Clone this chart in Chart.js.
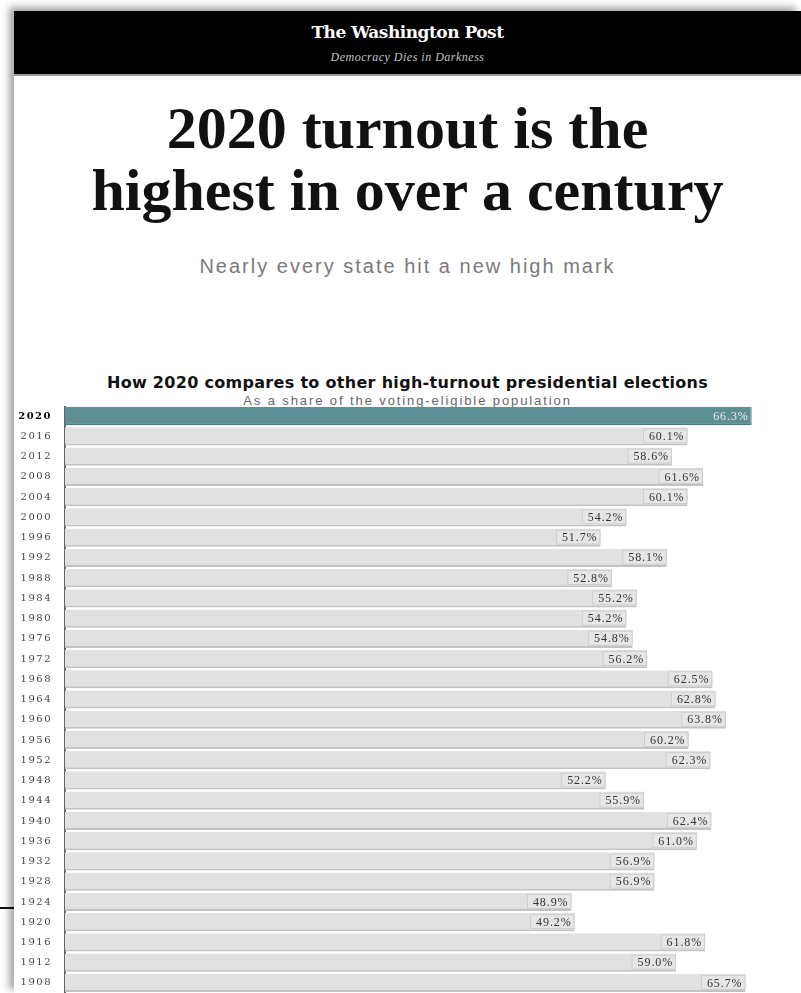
<!DOCTYPE html>
<html>
<head>
<meta charset="utf-8">
<script src="https://cdn.jsdelivr.net/npm/chart.js@4.4.0/dist/chart.umd.min.js"></script>
<style>
  html, body { margin: 0; padding: 0; background: #fff; }
  body { width: 801px; height: 993px; position: relative; overflow: hidden; }
  .page {
    position: absolute; left: 14px; top: 11px; right: 0; bottom: 0;
    background: #fff;
    box-shadow: -5px -4px 7px rgba(0, 0, 0, 0.35);
  }
  .masthead {
    position: absolute; left: 14px; top: 11px; right: 0; height: 63px;
    background: #000; color: #fff; text-align: center;
    border-bottom: 2px solid #9a9a9a;
  }
  .masthead .name {
    position: absolute; left: 0; right: 0; top: 11px;
    font: bold 17px "DejaVu Serif", serif; letter-spacing: -0.5px;
  }
  .masthead .motto {
    position: absolute; left: 0; right: 0; top: 39px;
    font: italic 12px "Liberation Serif", serif; color: #c4c4c4; letter-spacing: 0.5px;
  }
  .headline {
    position: absolute; left: 14px; right: 0; top: 97px; text-align: center;
    font: bold 60px/62px "Liberation Serif", serif; color: #111;
  }
  .dek {
    position: absolute; left: 14px; right: 0; top: 255px; text-align: center;
    font: 20px "Liberation Sans", sans-serif; color: #7a7a7a; letter-spacing: 2px;
  }
  .chart-title {
    position: absolute; left: 14px; right: 0; top: 373px; text-align: center;
    font: bold 16px "DejaVu Sans", sans-serif; color: #111; letter-spacing: 0.3px;
  }
  .chart-sub {
    position: absolute; left: 14px; right: 0; top: 393px; text-align: center;
    font: 13px "Liberation Sans", sans-serif; color: #666; letter-spacing: 1.9px;
  }
  .edge-mark {
    position: absolute; left: 0; top: 907px; width: 14px; height: 2px; background: #111;
  }
  #wrap { position: absolute; left: 14px; top: 406px; width: 787px; height: 587px; }
</style>
</head>
<body>
<div class="page"></div>
<div class="masthead">
  <div class="name">The Washington Post</div>
  <div class="motto">Democracy Dies in Darkness</div>
</div>
<div class="headline">2020 turnout is the<br>highest in over a century</div>
<div class="dek">Nearly every state hit a new high mark</div>
<div class="chart-title">How 2020 compares to other high-turnout presidential elections</div>
<div class="chart-sub">As a share of the voting-eligible population</div>
<div class="edge-mark"></div>
<div id="wrap"><canvas id="chart" width="787" height="587"></canvas></div>

<script>
// election years, newest first
const years = [
  '2020', '2016', '2012', '2008', '2004', '2000', '1996', '1992', '1988', '1984',
  '1980', '1976', '1972', '1968', '1964', '1960', '1956', '1952', '1948', '1944',
  '1940', '1936', '1932', '1928', '1924', '1920', '1916', '1912', '1908'
];

// turnout, % of voting-eligible population
const turnout = [
  66.3, 60.1, 58.6, 61.6, 60.1, 54.2, 51.7, 58.1, 52.8, 55.2,
  54.2, 54.8, 56.2, 62.5, 62.8, 63.8, 60.2, 62.3, 52.2, 55.9,
  62.4, 61.0, 56.9, 56.9, 48.9, 49.2, 61.8, 59.0, 65.7
];

const highlight = '#5e8f94';
const barGray = '#e1e1e1';

// spread the year ticks a little, like the print labels
const tickSpacing = {
  id: 'tickSpacing',
  beforeDraw(chart) {
    chart.ctx.letterSpacing = '1.5px';
  }
};

// value at the end of each bar, inside a small box
const valueLabels = {
  id: 'valueLabels',
  afterDatasetsDraw(chart) {
    const ctx = chart.ctx;
    const meta = chart.getDatasetMeta(0);
    ctx.save();
    ctx.font = '12px "Liberation Serif", serif';
    ctx.letterSpacing = '0.9px';
    ctx.textAlign = 'right';
    ctx.textBaseline = 'middle';
    meta.data.forEach((bar, i) => {
      const text = turnout[i].toFixed(1) + '%';
      const w = ctx.measureText(text).width;
      if (i > 0) {
        ctx.fillStyle = '#e6e6e6';
        ctx.fillRect(bar.x - w - 9, bar.y - 8, w + 9, 15);
        ctx.strokeStyle = '#cdcdcd';
        ctx.lineWidth = 1;
        ctx.strokeRect(bar.x - w - 8.5, bar.y - 7.5, w + 8, 14);
      }
      ctx.fillStyle = i === 0 ? '#e4eff0' : '#333';
      ctx.fillText(text, bar.x - 3, bar.y + 0.5);
    });
    ctx.restore();
  }
};

new Chart(document.getElementById('chart').getContext('2d'), {
  type: 'bar',
  data: {
    labels: years,
    datasets: [{
      data: turnout,
      backgroundColor: years.map((y, i) => i === 0 ? highlight : barGray),
      borderColor: years.map((y, i) => i === 0 ? '#4a787d' : '#c2c2c2'),
      borderWidth: { top: 0, right: 1, bottom: 2, left: 0 },
      borderSkipped: false,
      barPercentage: 0.9,
      categoryPercentage: 1.0,
    }],
  },
  options: {
    indexAxis: 'y',
    responsive: false,
    devicePixelRatio: 1,
    animation: false,
    layout: { padding: { top: 0, right: 11, bottom: 0, left: 0 } },
    scales: {
      x: {
        min: 0,
        max: 70,
        display: false,
      },
      y: {
        grid: { display: false },
        border: { display: true, color: '#666', width: 2 },
        afterFit(scale) {
          // fixed gutter for the years; no extra room above/below the bars
          scale.width = 51;
          scale.paddingTop = 0;
          scale.paddingBottom = 0;
        },
        ticks: {
          padding: 5,
          color: (c) => c.index === 0 ? '#000' : '#444',
          font: (c) => ({
            family: '"DejaVu Serif", serif',
            size: 10,
            weight: c.index === 0 ? 'bold' : 'normal',
          }),
        },
      },
    },
    plugins: {
      legend: { display: false },
      tooltip: { enabled: false },
    },
  },
  plugins: [tickSpacing, valueLabels],
});
</script>
</body>
</html>
